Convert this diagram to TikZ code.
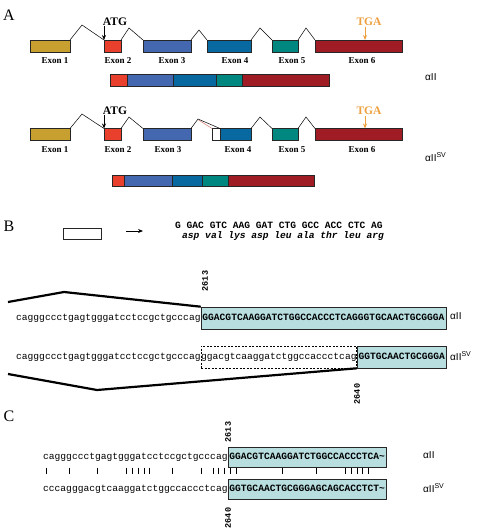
\documentclass[tikz,border=0pt]{standalone}
\usepackage{fontspec}
\setmainfont{Liberation Serif}
\newfontfamily\monof{Liberation Mono}
\newfontfamily\sansf{Liberation Sans}
\usetikzlibrary{arrows.meta,calc}
\definecolor{cgold}{RGB}{200,160,48}
\definecolor{cred}{RGB}{232,64,44}
\definecolor{cblue}{RGB}{68,104,176}
\definecolor{cdblue}{RGB}{8,104,160}
\definecolor{cteal}{RGB}{0,136,128}
\definecolor{cdred}{RGB}{160,28,36}
\definecolor{cbox}{RGB}{184,222,224}
\definecolor{corange}{RGB}{238,160,64}
\definecolor{cthin}{RGB}{200,90,70}
\begin{document}
\begin{tikzpicture}[x=1pt,y=-1pt,
  exon/.style={draw=black!85,line width=0.5pt,inner sep=0pt,outer sep=0pt,minimum height=12pt},
  mrna/.style={draw=black!85,line width=0.5pt,inner sep=0pt,outer sep=0pt,minimum height=11.5pt},
  intron/.style={draw=black,line width=0.5pt},
  exlab/.style={font=\bfseries\fontsize{9}{10}\selectfont,inner sep=0pt},
  codon/.style={font=\bfseries\fontsize{11.5}{12}\selectfont,inner sep=0pt},
  panel/.style={font=\fontsize{16}{18}\selectfont,inner sep=0pt},
  iso/.style={font=\sansf\fontsize{10}{12}\selectfont,inner sep=0pt,anchor=west},
  seq/.style={font=\monof\fontsize{9.6}{11}\selectfont,inner sep=0pt,text height=7pt,text depth=2pt},
  seqb/.style={seq,font=\monof\bfseries\fontsize{9.6}{11}\selectfont},
  seqbox/.style={seqb,draw=black!85,line width=0.6pt,fill=cbox,inner xsep=1.4pt,anchor=west},
  dashbox/.style={seq,draw=black,dash pattern=on 2pt off 1.5pt,line width=0.5pt,anchor=west},
  posn/.style={font=\monof\bfseries\fontsize{8.5}{9}\selectfont,rotate=90,inner sep=0pt},
  thick line/.style={draw=black,line width=2.2pt,line join=miter},
  tip/.style={-{Stealth[length=5pt,width=4pt]}},
]
\useasboundingbox (0,0) rectangle (476,529);
\fill[white] (0,0) rectangle (476,529);

% ---------------- Panel A ----------------
\node[panel] (pA) at (9,15) {A};

% gene 1
\node[exon,fill=cgold, minimum width=40pt] (a1) at (50,46) {};
\node[exon,fill=cred,  minimum width=17pt] (a2) at (112.5,46) {};
\node[exon,fill=cblue, minimum width=48pt] (a3) at (167,46) {};
\node[exon,fill=cdblue,minimum width=44pt] (a4) at (229,46) {};
\node[exon,fill=cteal, minimum width=26pt] (a5) at (285,46) {};
\node[exon,fill=cdred, minimum width=87pt] (a6) at (358.5,46) {};
\draw[intron] (a1.north east) -- (82,25) -- (a2.north west);
\draw[intron] (a2.north east) -- (129,28) -- (a3.north west);
\draw[intron] (a3.north east) -- (199,30) -- (a4.north west);
\draw[intron] (a4.north east) -- (260,28) -- (a5.north west);
\draw[intron] (a5.north east) -- (306,28) -- (a6.north west);
\node[codon] (atg1) at (115,22) {ATG};
\draw[tip,line width=0.8pt] (a2.north west |- atg1.south) -- (a2.north west);
\node[codon,text=corange] (tga1) at (369,22) {TGA};
\coordinate (t1) at (365,27);
\draw[tip,line width=0.8pt,corange] (t1) -- (t1 |- a6.north);
\node[exlab] (la1) at (55,61) {Exon 1};
\node[exlab] (la2) at (118,61) {Exon 2};
\node[exlab] (la3) at (172,61) {Exon 3};
\node[exlab] (la4) at (235,61) {Exon 4};
\node[exlab] (la5) at (292,61) {Exon 5};
\node[exlab] (la6) at (362,61) {Exon 6};

% mRNA 1
\node[mrna,fill=cred,  minimum width=17pt] (m1) at (118.5,80.5) {};
\node[mrna,fill=cblue, minimum width=46pt] (m2) at (150,80.5) {};
\node[mrna,fill=cdblue,minimum width=43pt] (m3) at (194.5,80.5) {};
\node[mrna,fill=cteal, minimum width=26pt] (m4) at (229,80.5) {};
\node[mrna,fill=cdred, minimum width=87pt] (m5) at (285.5,80.5) {};
\node[iso] (iso1) at (425,77) {αII};

% gene 2
\node[exon,fill=cgold, minimum width=40pt] (b1) at (50,134.5) {};
\node[exon,fill=cred,  minimum width=17pt] (b2) at (112.5,134.5) {};
\node[exon,fill=cblue, minimum width=48pt] (b3) at (167,134.5) {};
\node[exon,fill=white, minimum width=8pt]  (bw) at (216,134.5) {};
\node[exon,fill=cdblue,minimum width=31pt] (b4) at (235.5,134.5) {};
\node[exon,fill=cteal, minimum width=26pt] (b5) at (285,134.5) {};
\node[exon,fill=cdred, minimum width=87pt] (b6) at (358.5,134.5) {};
\draw[intron] (b1.north east) -- (82,114) -- (b2.north west);
\draw[intron] (b2.north east) -- (129,117) -- (b3.north west);
\draw[cthin,line width=0.35pt] (198,119.6) -- (bw.north west);
\draw[intron] (b3.north east) -- (198,119) -- (b4.north west);
\draw[intron] (b4.north east) -- (260,117) -- (b5.north west);
\draw[intron] (b5.north east) -- (306,117) -- (b6.north west);
\node[codon] (atg2) at (115,111) {ATG};
\draw[tip,line width=0.8pt] (b2.north west |- atg2.south) -- (b2.north west);
\node[codon,text=corange] (tga2) at (369,111) {TGA};
\coordinate (t2) at (365,116);
\draw[tip,line width=0.8pt,corange] (t2) -- (t2 |- b6.north);
\node[exlab] (lb1) at (55,150) {Exon 1};
\node[exlab] (lb2) at (118,150) {Exon 2};
\node[exlab] (lb3) at (168,150) {Exon 3};
\node[exlab] (lb4) at (238,150) {Exon 4};
\node[exlab] (lb5) at (292,150) {Exon 5};
\node[exlab] (lb6) at (362,150) {Exon 6};
\node[iso] (iso2) at (425,157) {αII\textsuperscript{SV}};

% mRNA 2
\node[mrna,fill=cred,  minimum width=12pt] (n1) at (118,181) {};
\node[mrna,fill=cblue, minimum width=48pt] (n2) at (148,181) {};
\node[mrna,fill=cdblue,minimum width=30pt] (n3) at (187,181) {};
\node[mrna,fill=cteal, minimum width=26pt] (n4) at (215,181) {};
\node[mrna,fill=cdred, minimum width=86pt] (n5) at (271,181) {};

% ---------------- Panel B ----------------
\node[panel] (pB) at (9,226) {B};
\node[draw=black!85,line width=0.5pt,fill=white,minimum width=38pt,minimum height=11pt,inner sep=0pt] (wb) at (82,233.5) {};
\coordinate (ar1) at (126,231);
\coordinate (ar2) at (143,231);
\draw[-{Stealth[length=5pt,width=4pt]},line width=0.8pt] (ar1) -- (ar2);
\node[seqb,anchor=west] (cod) at (175,226) {G GAC GTC AAG GAT CTG GCC ACC CTC AG};
\node[seqb,anchor=west] (aa) at (182,236) {\itshape asp val lys asp leu ala thr leu arg};

\node[posn] (p2613a) at (205,281) {2613};
\node[seq,anchor=west] (r1l) at (16,318) {cagggccctgagtgggatcctccgctgcccag};
\node[seqbox,minimum height=22pt] (r1b) at (r1l.east) {GGACGTCAAGGATCTGGCCACCCTCAGGGTGCAACTGCGGGA};
\node[iso] (iso3) at (450,316) {αII};
\node[seq,anchor=west] (r2l) at (16,357) {cagggccctgagtgggatcctccgctgcccag};
\node[dashbox,minimum height=22pt] (r2d) at (r2l.east) {ggacgtcaaggatctggccaccctcag};
\node[seqbox,minimum height=22pt] (r2b) at (r2d.east) {GGTGCAACTGCGGGA};
\node[iso] (iso4) at (450,356) {αII\textsuperscript{SV}};
\node[posn] (p2640a) at (357,394) {2640};
\coordinate (u0) at (8,302);
\coordinate (l0) at (8,374);
\draw[thick line] (u0) -- (64,292) -- (r1b.north west);
\draw[thick line] (l0) -- (97,390) -- (r2b.south west);

% ---------------- Panel C ----------------
\node[panel] (pC) at (9,416) {C};
\node[posn] (p2613b) at (228,432) {2613};
\node[seq,anchor=west] (s1l) at (43,457) {cagggccctgagtgggatcctccgctgcccag};
\node[seqbox,minimum height=20pt] (s1b) at (s1l.east) {GGACGTCAAGGATCTGGCCACCCTCA\textasciitilde};
\node[iso] (iso5) at (423,455) {αII};
\node[seq,anchor=west] (s2l) at (43,489) {cccagggacgtcaaggatctggccaccctcag};
\node[seqbox,minimum height=20pt] (s2b) at (s2l.east) {GGTGCAACTGCGGGAGCAGCACCTCT\textasciitilde};
\node[iso] (iso6) at (423,488) {αII\textsuperscript{SV}};
\node[posn] (p2640b) at (228,518) {2640};
\foreach \i in {0,4,9,14,15,16,17,18,22,27,29,30,31,32,33,41,47,52,53,54,55,56}
  \draw[line width=0.6pt] ({43+(\i+0.5)*5.76},467.5) -- ({43+(\i+0.5)*5.76},474);
\end{tikzpicture}
\end{document}
